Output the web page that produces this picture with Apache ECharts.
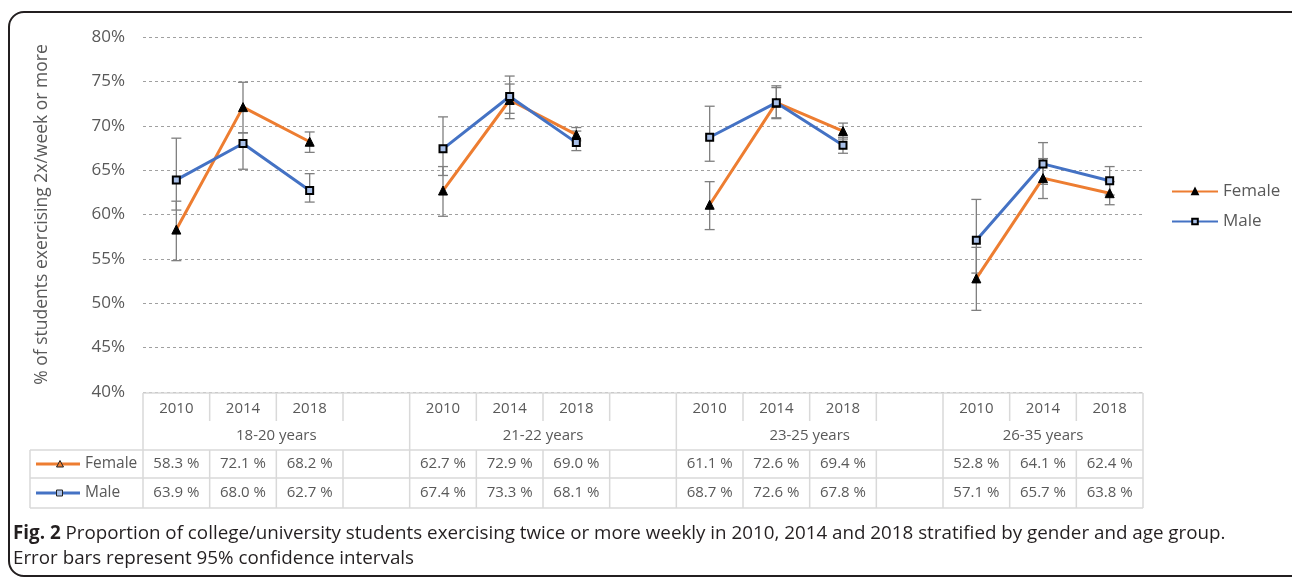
<!DOCTYPE html>
<html>
<head>
<meta charset="utf-8">
<script src="https://cdn.jsdelivr.net/npm/echarts@6/dist/echarts.min.js"></script>
<style>
html,body{margin:0;padding:0;background:#fff}
#chart{width:1292px;height:578px}
</style>
</head>
<body>
<div id="chart"></div>
<script>
// categories: 4 age groups, 3 years each, blank slot between groups
var years = ['2010','2014','2018','', '2010','2014','2018','', '2010','2014','2018','', '2010','2014','2018'];
var groups = ['18-20 years','21-22 years','23-25 years','26-35 years'];

var female = [58.3,72.1,68.2,null, 62.7,72.9,69.0,null, 61.1,72.6,69.4,null, 52.8,64.1,62.4];
var male   = [63.9,68.0,62.7,null, 67.4,73.3,68.1,null, 68.7,72.6,67.8,null, 57.1,65.7,63.8];

// 95% CI
var femaleLow  = [54.8,69.2,67.0,null, 59.8,70.8,68.3,null, 58.3,70.8,68.5,null, 49.2,61.8,61.1];
var femaleHigh = [61.5,74.9,69.3,null, 65.4,74.7,69.8,null, 63.7,74.3,70.3,null, 56.3,66.3,63.7];
var maleLow    = [60.5,65.1,61.4,null, 64.4,71.4,67.2,null, 66.0,70.9,66.9,null, 53.4,63.4,62.2];
var maleHigh   = [68.6,69.2,64.6,null, 71.0,75.6,69.4,null, 72.2,74.5,68.7,null, 61.7,68.1,65.4];

var yTicks = [40,45,50,55,60,65,70,75,80];

var ORANGE = '#ED7D31', BLUE = '#4472C4', GREY = '#595959', FONT = 'Open Sans';

function ciData(lo, hi) {
    var out = [];
    for (var i = 0; i < lo.length; i++) {
        if (lo[i] != null) out.push([i, lo[i], hi[i]]);
    }
    return out;
}

//误差线
function errorItem(params, api) {
    var x = api.value(0);
    var lo = api.coord([x, api.value(1)]);
    var hi = api.coord([x, api.value(2)]);
    var w = 5;
    var st = {stroke:'#7f7f7f', lineWidth:1.3};
    return {type:'group', children:[
        {type:'line', shape:{x1:lo[0],y1:lo[1],x2:hi[0],y2:hi[1]}, style:st},
        {type:'line', shape:{x1:lo[0]-w,y1:lo[1],x2:lo[0]+w,y2:lo[1]}, style:st},
        {type:'line', shape:{x1:hi[0]-w,y1:hi[1],x2:hi[0]+w,y2:hi[1]}, style:st}
    ]};
}

var chart = echarts.init(document.getElementById('chart'));
var option = {
    animation:false,
    textStyle:{fontFamily:FONT},
    grid:{left:143, right:149, top:37, bottom:186},
    legend:{
        data:['Female','Male'],
        orient:'vertical',
        left:1166, top:178,
        itemWidth:46, itemHeight:7, itemGap:13,
        textStyle:{fontSize:17, color:GREY, fontFamily:FONT}
    },
    xAxis:{
        type:'category',
        data:years,
        boundaryGap:true,
        axisLine:{show:false},
        axisTick:{show:false},
        axisLabel:{show:false}
    },
    yAxis:{
        type:'value',
        min:yTicks[0], max:yTicks[yTicks.length-1], interval:5,
        name:'% of students exercising 2x/week or more',
        nameLocation:'middle',
        nameGap:92,
        nameTextStyle:{fontSize:17.5, color:GREY, fontFamily:FONT},
        axisLine:{show:false},
        axisTick:{show:false},
        axisLabel:{fontSize:17, color:GREY, margin:18, formatter:'{value}%'},
        splitLine:{lineStyle:{type:[3,3], color:'#a0a0a0', width:1}}
    },
    series:[
        {
            name:'Female CI', type:'custom', renderItem:errorItem,
            encode:{x:0, y:[1,2]}, data:ciData(femaleLow, femaleHigh), z:2
        },
        {
            name:'Male CI', type:'custom', renderItem:errorItem,
            encode:{x:0, y:[1,2]}, data:ciData(maleLow, maleHigh), z:2
        },
        {
            name:'Female', type:'line', data:female,
            symbol:'triangle', symbolSize:9,
            lineStyle:{color:ORANGE, width:3},
            itemStyle:{color:'#000', borderColor:'#000', borderWidth:1},
            z:3
        },
        {
            name:'Male', type:'line', data:male,
            symbol:'rect', symbolSize:7,
            lineStyle:{color:BLUE, width:3},
            itemStyle:{color:'#a9c0e8', borderColor:'#000', borderWidth:2},
            z:4
        }
    ]
};
chart.setOption(option);

//-------------------- 下方数据表 --------------------//
function px(i) { return chart.convertToPixel({xAxisIndex:0}, i); }
var band = px(1) - px(0);
var L = px(0) - band/2, R = px(years.length-1) + band/2;
var y0 = 393, y1 = 422, y2 = 450, y3 = 478, y4 = 508, LX = 30;
var lineSt = {stroke:'#d9d9d9', lineWidth:1.5};
var g = [];

function hl(x1, x2, y) { g.push({type:'line', shape:{x1:x1,y1:y,x2:x2,y2:y}, style:lineSt, z:10}); }
function vl(x, ya, yb) { g.push({type:'line', shape:{x1:x,y1:ya,x2:x,y2:yb}, style:lineSt, z:10}); }
function txt(s, x, y, size) {
    g.push({type:'text', x:x, y:y, z:11, style:{text:s, fontSize:size||15, fill:GREY, fontFamily:FONT, align:'center', verticalAlign:'middle'}});
}

hl(L, R, y0); hl(LX, R, y2); hl(LX, R, y3); hl(LX, R, y4);
vl(L, y0, y4); vl(LX, y2, y4);
for (var b = 1; b <= years.length; b++) {
    var xb = px(b-1) + band/2;
    if (b % 4 == 0 || b == years.length) {
        vl(xb, y0, y4);
    } else {
        vl(xb, y0, y1 - 1); vl(xb, y2, y4);
    }
}
for (var i = 0; i < years.length; i++) {
    if (years[i]) txt(years[i], px(i), (y0+y1)/2 + 1);
    if (female[i] != null) txt(female[i].toFixed(1) + ' %', px(i), (y2+y3)/2);
    if (male[i] != null) txt(male[i].toFixed(1) + ' %', px(i), (y3+y4)/2);
}
for (var k = 0; k < groups.length; k++) {
    var a = px(k*4) - band/2;
    var e = Math.min(px(k*4+3) + band/2, R);
    txt(groups[k], (a+e)/2, (y1+y2)/2);
}
// 表内图例
var rf = (y2+y3)/2, rm = (y3+y4)/2;
g.push({type:'line', shape:{x1:36,y1:rf,x2:80,y2:rf}, style:{stroke:ORANGE, lineWidth:3}, z:11});
g.push({type:'polygon', shape:{points:[[60,rf-3.5],[63.5,rf+3],[56.5,rf+3]]}, style:{fill:ORANGE, stroke:'#222', lineWidth:1}, z:12});
g.push({type:'line', shape:{x1:36,y1:rm,x2:80,y2:rm}, style:{stroke:BLUE, lineWidth:3}, z:11});
g.push({type:'rect', shape:{x:56.5,y:rm-3,width:6,height:6}, style:{fill:'#a9c0e8', stroke:'#222', lineWidth:1}, z:12});
g.push({type:'text', x:85, y:rf, z:11, style:{text:'Female', fontSize:15.5, fill:GREY, fontFamily:FONT, verticalAlign:'middle'}});
g.push({type:'text', x:85, y:rm, z:11, style:{text:'Male', fontSize:15.5, fill:GREY, fontFamily:FONT, verticalAlign:'middle'}});

// 外框和图注
g.push({type:'rect', shape:{x:9, y:12, width:1300, height:564, r:15}, style:{fill:'none', stroke:'#231f20', lineWidth:2}, z:1});
g.push({type:'text', x:13, y:534, z:11, style:{
    text:'{b|Fig. 2} Proportion of college/university students exercising twice or more weekly in 2010, 2014 and 2018 stratified by gender and age group.',
    fontSize:18.8, fill:'#231f20', fontFamily:FONT, verticalAlign:'middle',
    rich:{b:{fontWeight:'bold', fontSize:18.8, fill:'#231f20', fontFamily:FONT}}
}});
g.push({type:'text', x:13, y:559, z:11, style:{
    text:'Error bars represent 95% confidence intervals',
    fontSize:18.8, fill:'#231f20', fontFamily:FONT, verticalAlign:'middle'
}});

chart.setOption({graphic:g});
</script>
</body>
</html>
